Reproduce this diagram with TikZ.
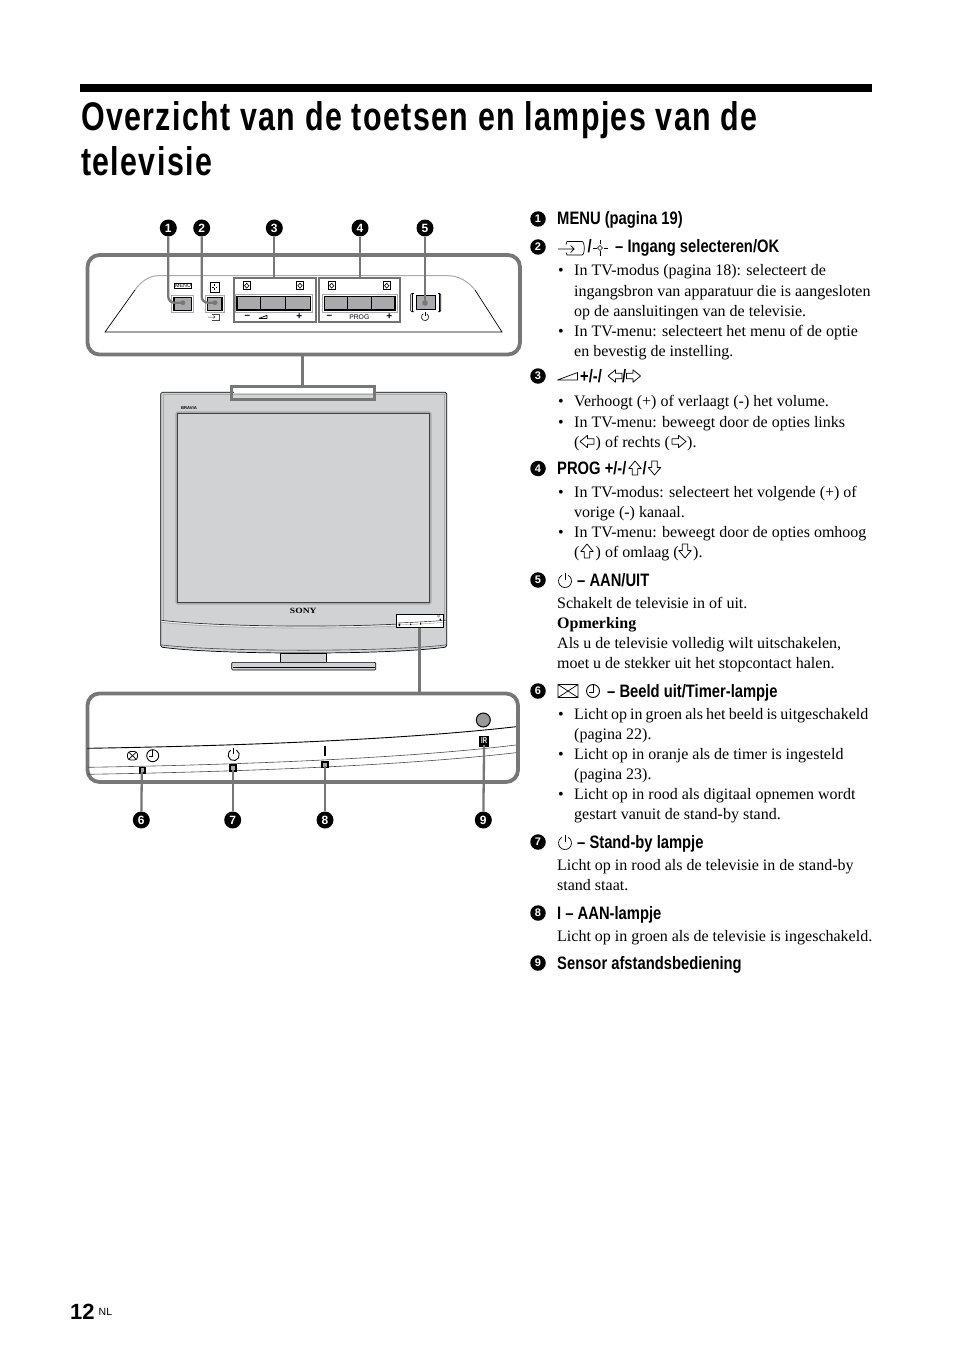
\documentclass[tikz,border=0pt]{standalone}
\usepackage{fontspec}
\setmainfont{Liberation Serif}
\newfontfamily\condbold[FakeStretch=0.82]{Liberation Sans Bold}
\newfontfamily\titlebold[FakeStretch=0.76,LetterSpace=3.4]{Liberation Sans Bold}
\newfontfamily\plainsans{Liberation Sans}
\newfontfamily\boldsans{Liberation Sans Bold}
\definecolor{leader}{HTML}{777777}
\definecolor{tvgray}{HTML}{D1D2D3}
\definecolor{midgray}{HTML}{A9AAAB}
\newcounter{tln}
\tikzset{
  x=1pt,y=-1pt,
  bodytext/.style={anchor=base west,inner sep=0pt,font=\fontsize{16}{18}\selectfont},
  headtext/.style={anchor=base west,inner sep=0pt,font=\fontsize{18}{20}\condbold},
  numdot/.style={circle,fill=black,text=white,inner sep=0pt,minimum size=17pt,font=\fontsize{12}{12}\boldsans},
  lead/.style={draw=leader,line width=2.3pt},
  panel/.style={draw=leader,line width=3.8pt,rounded corners=12pt},
  thinicon/.style={draw=black,line width=0.7pt},
  smalllabel/.style={inner sep=0pt,font=\fontsize{6.8}{7}\plainsans},
  btn/.style={draw=black,line width=1.4pt,fill=midgray},
  grp/.style={draw=black!55,line width=2pt},
  led/.style={fill=black},
}
\newcommand\nxt{\stepcounter{tln}}
\newcommand\bdtxt[3]{\nxt\node[bodytext] (t\arabic{tln}) at (#1,#2) {#3};}
\newcommand\bltxt[2]{\nxt\node[bodytext] (b\arabic{tln}) at (558,#1) {•};\nxt\node[bodytext] (t\arabic{tln}) at (574,#1) {#2};}
\newcommand\hdtxt[3]{\nxt\node[headtext] (h\arabic{tln}) at (#1,#2) {#3};}
% hollow block arrow: x y angle scale
\newcommand\blockarrow[4]{\begin{scope}[shift={(#1,#2)},rotate=#3,scale=#4]
  \draw[black,line width=0.75pt,line join=round] (-7,-2.8)--(-0.5,-2.8)--(-0.5,-6.2)--(7,0)--(-0.5,6.2)--(-0.5,2.8)--(-7,2.8)--cycle;
\end{scope}}
\newcommand\pwr[4]{\begin{scope}[shift={(#1,#2)}]
  \draw[black,line width=#4pt] (-60:#3) arc (-60:240:#3);
  \draw[black,line width=#4pt] (0,-#3-1.5)--(0,-1);
\end{scope}}
\newcommand\clockicon[3]{\begin{scope}[shift={(#1,#2)}]
  \draw[black,line width=0.9pt] (0,0) circle[radius=#3];
  \draw[black,line width=0.9pt] (0,-#3)--(0,1)--(-#3+2.5,1);
\end{scope}}
\newcommand\diabox[2]{\begin{scope}[shift={(#1,#2)}]
  \draw[black,line width=0.7pt,fill=white] (-3.8,-4)rectangle(3.8,4);
  \draw[black,line width=0.6pt] (0,-2.4)--(2.2,0)--(0,2.4)--(-2.2,0)--cycle;
\end{scope}}
\newcommand\volicon[3]{\begin{scope}[shift={(#1,#2)},scale=#3]
  \draw[black,line width=0.7pt,line join=round] (-10,3.5)--(10,3.5)--(10,-4)--cycle;
\end{scope}}
\begin{document}
\begin{tikzpicture}
\useasboundingbox[fill=white] (0,0) rectangle (954,1356);
% title
\fill[black] (80,84) rectangle (872,92.5);
\node[anchor=base west,inner sep=0pt,font=\fontsize{40}{44}\titlebold] (title1) at (81,131) {Overzicht van de toetsen en lampjes van de};
\node[anchor=base west,inner sep=0pt,font=\fontsize{40}{44}\titlebold] (title2) at (81,176) {televisie};

% ===== top panel =====
\draw[panel] (87.5,255) rectangle (520,354.5);
\draw[midgray,line width=1pt] (135,290) .. controls (141,281) and (150,275.7) .. (158,275.7) -- (448,275.7) .. controls (458,275.7) and (468,281) .. (475,290);
\draw[black,line width=0.7pt] (135,290) -- (105,332) -- (502,332) -- (475,290);

\draw[draw=midgray,line width=.6pt] (171.5,295.5) rectangle (193.5,312.5);
\draw[btn] (174,297.5) rectangle (191.5,310.5);
\draw[draw=midgray,line width=.6pt] (205.5,295.5) rectangle (224,312.5);
\draw[btn] (207.5,297.5) rectangle (222,310.5);
\node[draw=black,line width=.5pt,inner sep=.6pt,font=\fontsize{5.4}{6}\plainsans] (menulabel) at (183,285.5) {MENU};
\draw[thinicon] (210,282) rectangle (219,292);
\draw[thinicon] (214.5,284)--(214.5,286) (214.5,288)--(214.5,290) (212,287)--(213.5,287) (215.5,287)--(217,287);
% input icon below
\draw[black!70,line width=.5pt] (208,317)--(215,317) (213.5,315.5)--(215,317)--(213.5,318.5);
\draw[black!70,line width=.5pt] (212,314)--(219,314)--(219,320)--(212,320);

% volume group
\draw[grp] (233.5,277.7) rectangle (316,321.7);
\draw[draw=midgray,line width=.6pt] (235.5,294.5) rectangle (312.5,312);
\draw[btn] (237,296.5) rectangle (310.7,310);
\draw[black,line width=.8pt] (260,296.5)--(260,310) (285,296.5)--(285,310);
\diabox{246.7}{285.7}\diabox{300}{285.7}
\node[smalllabel,font=\fontsize{10}{10}\boldsans] (volminus) at (247.3,316.5) {–};
\node[smalllabel,font=\fontsize{10}{10}\boldsans] (volplus) at (299.3,316.5) {+};
\volicon{263}{317}{.4}

% prog group
\draw[grp] (319.3,277.7) rectangle (400,321.7);
\draw[draw=midgray,line width=.6pt] (322.5,294.5) rectangle (397,312);
\draw[btn] (324.3,296.5) rectangle (395,310);
\draw[black,line width=.8pt] (347.3,296.5)--(347.3,310) (371.7,296.5)--(371.7,310);
\diabox{331.7}{285.7}\diabox{386.7}{285.7}
\node[smalllabel,font=\fontsize{10}{10}\boldsans] (prminus) at (329.3,316.5) {–};
\node[smalllabel] (proglabel) at (359.3,317) {PROG};
\node[smalllabel,font=\fontsize{10}{10}\boldsans] (prplus) at (389.3,316.5) {+};

% power button
\draw[draw=black,line width=.6pt,rounded corners=1pt] (410.7,293.5) rectangle (440.7,311.7);
\fill[white] (414,292.5) rectangle (438,312.5);
\draw[black,line width=.6pt] (412.5,293.5)--(412.5,311.7) (438.8,293.5)--(438.8,311.7);
\draw[btn,line width=1.8pt] (416.5,295.5) rectangle (435.5,309.5);
\pwr{425}{317}{3.6}{.6}

\node[numdot] (n1) at (168.3,228) {1};
\node[numdot] (n2) at (201.7,228) {2};
\node[numdot] (n3) at (274.3,228) {3};
\node[numdot] (n4) at (360,228) {4};
\node[numdot] (n5) at (425,228) {5};
\coordinate (c1) at (183,302.7);
\coordinate (c2) at (215,302.7);
\coordinate (c3) at (274.3,278);
\coordinate (c4) at (360,278);
\coordinate (c5) at (425,303);
\draw[lead,rounded corners=6pt] (n1) |- (c1);
\draw[lead,rounded corners=6pt] (n2) |- (c2);
\draw[lead] (n3) -- (c3);
\draw[lead] (n4) -- (c4);
\draw[lead] (n5) -- (c5);
\fill[leader] (c1) circle[radius=2.4] (c2) circle[radius=2.4] (c5) circle[radius=2.8];

% ===== television =====
\draw[black,line width=.7pt,fill=tvgray,rounded corners=1.5pt] (160.7,392.3) -- (446.7,392.3) -- (446.7,647) .. controls (390,655) and (216,655) .. (160.7,647) -- cycle;
\draw[midgray,line width=.6pt] (163,394.5) -- (444.5,394.5) (444.5,394.5)--(444.5,620) (163,394.5)--(163,620);
\draw[midgray,line width=2.4pt,rounded corners=1.5pt] (176.5,412.5) rectangle (430.5,603.5);
\draw[black!75,line width=.7pt,fill=tvgray] (177.7,413.7) rectangle (429.3,602.3);
\node[inner sep=0pt,font=\fontsize{4.2}{5}\boldsans] (bravia) at (189,408.3) {BRAVIA};
\node[inner sep=0pt,font=\fontsize{8}{8}\bfseries] (sony) at (303.3,611.3) {\scalebox{1.2}[1]{SONY}};
\draw[black!80,line width=.7pt] (161.5,620.3) .. controls (220,627.5) and (380,628.5) .. (445.5,620.3);
\draw[white,line width=.5pt] (161.5,621.3) .. controls (220,628.5) and (380,629.5) .. (445.5,621.3);
\draw[midgray,line width=.6pt] (161.5,622.3) .. controls (220,629.5) and (380,630.5) .. (445.5,622.3);
\draw[black!70,line width=.6pt] (160.7,644.8) .. controls (216,652) and (390,652) .. (446.7,644.8);
% stand
\draw[black,line width=.6pt,fill=tvgray] (280,652.8) rectangle (326.7,662.3);
\draw[black,line width=.6pt,fill=tvgray,rounded corners=1pt] (231.7,662.3) rectangle (375.7,670);
\draw[black,line width=.5pt] (232.5,667.5)--(375,667.5);
% highlight boxes
\fill[white] (233.5,388.5) rectangle (372.5,393);
\draw[leader,line width=3.4pt] (231.7,386.5) rectangle (374.3,399.5);
\draw[black,line width=.7pt,fill=white] (396.7,614.3) rectangle (443.3,627.3);
\draw[black,line width=.4pt] (397.5,623) .. controls (410,622.5) and (430,621.5) .. (442.5,620.5);
\draw[black!50,line width=.3pt] (397.5,625) .. controls (410,624.5) and (430,623.5) .. (442.5,622.5);
\fill[black] (398.5,623.5) rectangle (400,626) (410,623.5) rectangle (411,625) (420,622.5) rectangle (421,624.5) (439.5,618.5) rectangle (441,620.5);
\draw[black!60,line width=.3pt] (438.5,616) circle[radius=1.1];

% connectors
\coordinate (tvtop) at (302.7,384.8);
\coordinate (paneltopb) at (302.7,356.3);
\draw[leader,line width=3.4pt] (paneltopb) -- (tvtop);
\coordinate (insetb) at (419.5,627.5);
\coordinate (panelbt) at (419.5,691.7);
\draw[leader,line width=3.4pt] (insetb) -- (panelbt);

% ===== bottom panel =====
\draw[panel] (87.5,693.5) rectangle (518,782);
\draw[black,line width=.9pt] (87.5,748.3) .. controls (230,746) and (400,740) .. (516,726.7);
\draw[black!70,line width=.6pt] (87.5,767.3) .. controls (230,765) and (400,759) .. (516,745);
\draw[black!70,line width=.6pt] (87.5,774.3) .. controls (230,772) and (400,766) .. (516,752.7);

\fill[black] (139,766.7) rectangle (145.7,774);
\fill[black] (229.3,764.3) rectangle (236.7,771.7);
\fill[black] (320.7,761) rectangle (328.7,768.3);
\fill[midgray] (140.7,768.3) rectangle (144,772.3);
\fill[midgray] (231,766) rectangle (235,770);
\fill[midgray] (322.5,762.7) rectangle (326.9,766.6);

\draw[black,line width=.8pt,rounded corners=3pt] (127.5,751.5) rectangle (137.5,760);
\draw[black,line width=.7pt] (128.8,752.2)--(136.2,759.2) (128.8,759.2)--(136.2,752.2);
\clockicon{152.7}{755.7}{6}
\pwr{233.7}{755}{5.6}{.9}
\draw[black,line width=1.4pt] (325,746)--(325,756);
\draw[black,line width=1pt,fill=black!40] (483.3,720) circle[radius=7];
\fill[black] (479,735.7) rectangle (489.3,746.7);
\node[inner sep=0pt,text=white,font=\fontsize{8.5}{9}\boldsans] (irlabel) at (484.1,741) {\scalebox{.7}[1]{IR}};

\node[numdot] (n6) at (141.3,820) {6};
\node[numdot] (n7) at (232.7,820) {7};
\node[numdot] (n8) at (325,820) {8};
\node[numdot] (n9) at (483.3,820) {9};
\coordinate (c6) at (141.8,772);
\coordinate (c7) at (232.7,770);
\coordinate (c8) at (325,766);
\coordinate (c9) at (484.1,745);
\draw[lead] (n6) -- (c6);
\draw[lead] (n7) -- (c7);
\draw[lead] (n8) -- (c8);
\draw[lead] (n9) -- (c9);

% ===== right column =====
\tikzset{numdot/.append style={minimum size=15.5pt,font=\fontsize{11}{11}\boldsans}}
\node[numdot] (l1) at (538,219) {1};
\node[numdot] (l2) at (538,247) {2};
\node[numdot] (l3) at (538,376) {3};
\node[numdot] (l4) at (538,468.5) {4};
\node[numdot] (l5) at (538,580) {5};
\node[numdot] (l6) at (538,691) {6};
\node[numdot] (l7) at (538,842) {7};
\node[numdot] (l8) at (538,913) {8};
\node[numdot] (l9) at (538,963) {9};

\hdtxt{557}{225}{MENU (pagina 19)}
% item 2
\draw[black,line width=.7pt] (558,249)--(574,249) (570.5,245.5)--(574,249)--(570.5,252.5);
\draw[black,line width=.7pt] (566,244.5)--(567,241.5)--(582,241.5) .. controls (585,241.5) and (585,255) .. (582,255)--(567,255)--(566,252.5);
\hdtxt{587.5}{253}{/}
\draw[black,line width=.6pt] (600,240.5)--(600,244.5) (600,251.5)--(600,255.5) (592.5,248)--(596.5,248) (603.5,248)--(607.5,248);
\draw[black,line width=.6pt] (600,245.5)--(602.5,248)--(600,250.5)--(597.5,248)--cycle;
\hdtxt{615}{253}{– Ingang selecteren/OK}
\bltxt{275}{In TV-modus (pagina 18): selecteert de}
\bdtxt{574}{296}{ingangsbron van apparatuur die is aangesloten}
\bdtxt{574}{316}{op de aansluitingen van de televisie.}
\bltxt{336}{In TV-menu: selecteert het menu of de optie}
\bdtxt{574}{356}{en bevestig de instelling.}
% item 3
\volicon{567.5}{376.5}{1}
\hdtxt{580}{382}{+/-/}
\blockarrow{615}{376}{180}{1}
\hdtxt{622}{382}{/}
\blockarrow{633.5}{376}{0}{1}
\bltxt{406}{Verhoogt (+) of verlaagt (-) het volume.}
\bltxt{427}{In TV-menu: beweegt door de opties links}
\bdtxt{574}{447}{(}
\blockarrow{587}{441.5}{180}{1}
\bdtxt{595.5}{447}{) of rechts (}
\blockarrow{679}{441.5}{0}{1}
\bdtxt{687}{447}{).}
% item 4
\hdtxt{557}{474}{PROG +/-/}
\blockarrow{635}{468}{90}{1}
\hdtxt{642.5}{474}{/}
\blockarrow{654.5}{468}{-90}{1}
\bltxt{497}{In TV-modus: selecteert het volgende (+) of}
\bdtxt{574}{517}{vorige (-) kanaal.}
\bltxt{537}{In TV-menu: beweegt door de opties omhoog}
\bdtxt{574}{557}{(}
\blockarrow{587}{551}{90}{1}
\bdtxt{595.5}{557}{) of omlaag (}
\blockarrow{685}{551}{-90}{1}
\bdtxt{693}{557}{).}
% item 5
\pwr{565}{581}{6.5}{.7}
\hdtxt{577}{586}{– AAN/UIT}
\bdtxt{557}{608}{Schakelt de televisie in of uit.}
\bdtxt{557}{628}{\textbf{Opmerking}}
\bdtxt{557}{648}{Als u de televisie volledig wilt uitschakelen,}
\bdtxt{557}{668}{moet u de stekker uit het stopcontact halen.}
% item 6
\draw[black,line width=.7pt] (558,684.5) rectangle (578,697.5) (558,684.5)--(578,697.5) (558,697.5)--(578,684.5);
\clockicon{593}{691}{6.5}
\hdtxt{607}{697}{– Beeld uit/Timer-lampje}
\bltxt{719}{\spaceskip=3.1pt Licht op in groen als het beeld is uitgeschakeld}
\bdtxt{574}{739}{(pagina 22).}
\bltxt{759}{Licht op in oranje als de timer is ingesteld}
\bdtxt{574}{779}{(pagina 23).}
\bltxt{799}{Licht op in rood als digitaal opnemen wordt}
\bdtxt{574}{819}{gestart vanuit de stand-by stand.}
% item 7
\pwr{565}{843}{6.5}{.7}
\hdtxt{577}{848}{– Stand-by lampje}
\bdtxt{557}{870}{Licht op in rood als de televisie in de stand-by}
\bdtxt{557}{890}{stand staat.}
% item 8
\hdtxt{557}{919}{I – AAN-lampje}
\bdtxt{557}{941}{Licht op in groen als de televisie is ingeschakeld.}
% item 9
\hdtxt{557}{969}{Sensor afstandsbediening}

% page number
\node[anchor=base west,inner sep=0pt,font=\fontsize{22}{24}\boldsans] (pageno) at (70,1319) {12};
\node[anchor=base west,inner sep=0pt,font=\fontsize{10.5}{12}\plainsans] (pagelang) at (98.5,1315) {NL};
\end{tikzpicture}
\end{document}
